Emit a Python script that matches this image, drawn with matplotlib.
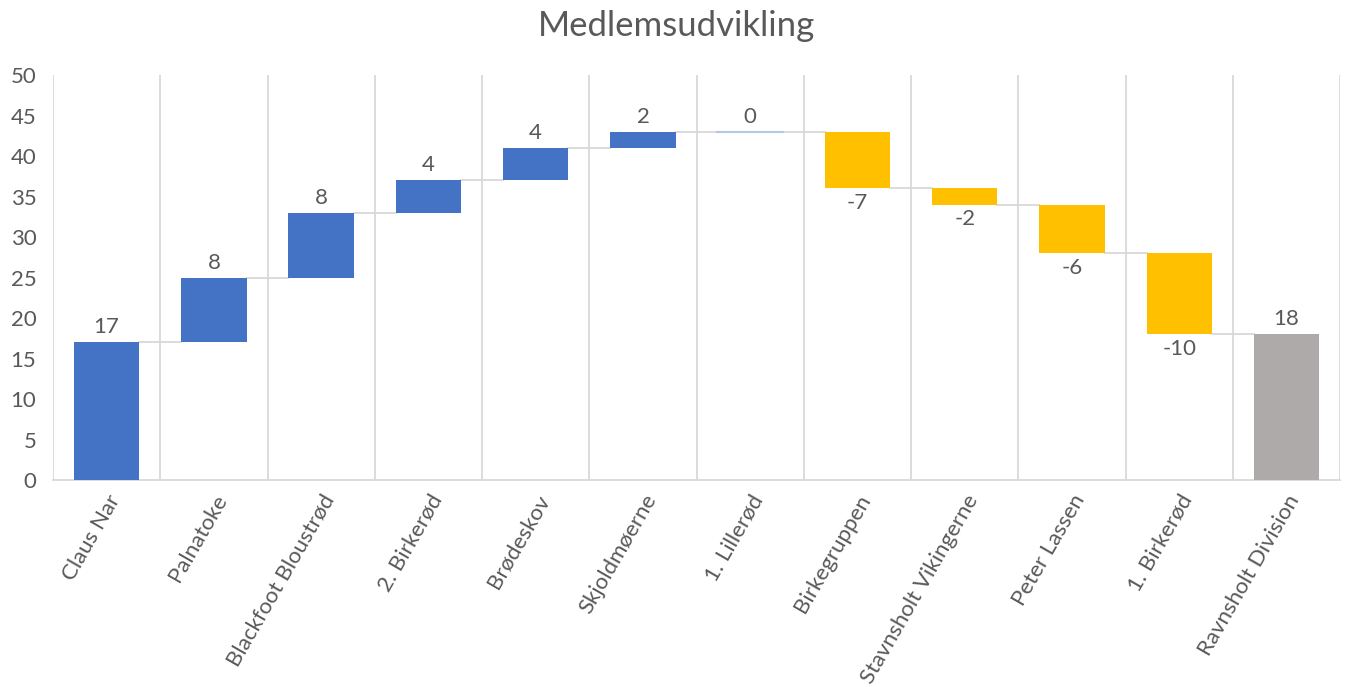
import matplotlib
matplotlib.use("Agg")
import matplotlib.pyplot as plt
import numpy as np

plt.rcParams['font.family'] = ['Lato', 'DejaVu Sans']

# data
categories = ["Claus Nar", "Palnatoke", "Blackfoot Bloustrød", "2. Birkerød", "Brødeskov",
              "Skjoldmøerne", "1. Lillerød", "Birkegruppen", "Stavnsholt Vikingerne",
              "Peter Lassen", "1. Birkerød", "Ravnsholt Division"]
changes = [17, 8, 8, 4, 4, 2, 0, -7, -2, -6, -10]
total = 18

txt = '#595959'
blue, yellow, grey = '#4472C4', '#FFC000', '#AEAAAA'
grid = '#D9D9D9'

fig = plt.figure(figsize=(13.45, 6.87), dpi=100)
ax = fig.add_axes([0.0394, 0.3013, 0.957, 0.5895])

x = np.arange(len(categories))
w = 0.61
cum = np.concatenate([[0], np.cumsum(changes)])

for i, v in enumerate(changes):
    lo, hi = min(cum[i], cum[i + 1]), max(cum[i], cum[i + 1])
    col = blue if v >= 0 else yellow
    if v == 0:
        ax.plot([x[i] - w / 2, x[i] + w / 2], [hi, hi], color='#B4C7E7', lw=1.5, zorder=3)
    else:
        ax.bar(x[i], hi - lo, bottom=lo, width=w, color=col, zorder=3)
    if v >= 0:
        ax.text(x[i], hi + 0.6, str(v), ha='center', va='bottom', fontsize=16, color=txt)
    else:
        ax.text(x[i], lo - 0.6, str(v), ha='center', va='top', fontsize=16, color=txt)

n = len(changes)
ax.bar(x[n], total, width=w, color=grey, zorder=3)
ax.text(x[n], total + 0.6, str(total), ha='center', va='bottom', fontsize=16, color=txt)

# connectors
for i in range(n):
    ax.plot([x[i] + w / 2, x[i + 1] - w / 2], [cum[i + 1], cum[i + 1]], color=grid, lw=1.3, zorder=2)

# category separators
for b in np.arange(-0.5, len(categories), 1.0):
    ax.axvline(b, color=grid, lw=1.3, zorder=1)

ax.set_xlim(-0.5, len(categories) - 0.5)
ax.set_ylim(0, 50)
ax.set_yticks(np.arange(0, 51, 5))
ax.set_xticks(x)
ax.set_xticklabels(categories, rotation=60, ha='right', rotation_mode='anchor')
ax.tick_params(axis='both', length=0, labelsize=16, labelcolor=txt)
ax.tick_params(axis='y', pad=12)
ax.tick_params(axis='x', pad=8)
for s in ['top', 'right', 'left']:
    ax.spines[s].set_visible(False)
ax.spines['bottom'].set_color(grid)
ax.spines['bottom'].set_linewidth(1.3)

fig.suptitle("Medlemsudvikling", fontsize=25, color=txt, x=0.503, y=0.985)

fig.savefig("out.png", dpi=100)
